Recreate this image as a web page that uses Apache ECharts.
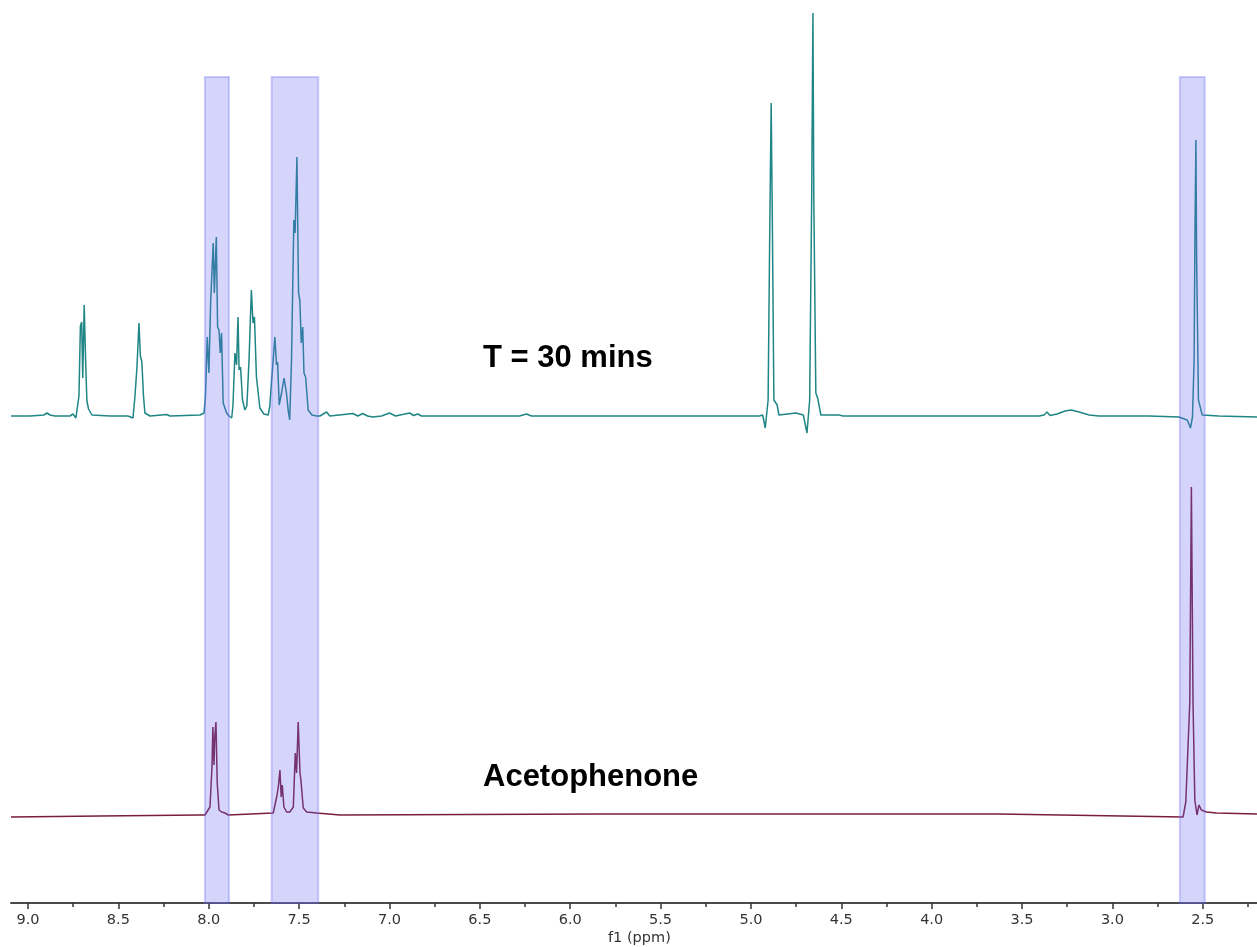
<!DOCTYPE html>
<html>
<head>
<meta charset="utf-8">
<script src="https://cdn.jsdelivr.net/npm/echarts@6/dist/echarts.min.js"></script>
<style>
html,body{margin:0;padding:0;background:#fff;}
#chart{width:1257px;height:947px;}
</style>
</head>
<body>
<div id="chart"></div>
<script>
// ---- Data (ppm, intensity above baseline) ----
const tealPpm = [9.094,8.989,8.912,8.895,8.878,8.851,8.768,8.751,8.735,8.726,8.718,8.710,8.703,8.697,8.689,8.682,8.674,8.665,8.646,8.546,8.447,8.419,8.408,8.397,8.386,8.378,8.370,8.361,8.353,8.325,8.231,8.215,8.049,8.026,8.018,8.008,7.999,7.989,7.975,7.969,7.958,7.951,7.943,7.936,7.929,7.920,7.901,7.888,7.873,7.866,7.855,7.846,7.838,7.832,7.824,7.813,7.800,7.789,7.777,7.764,7.755,7.747,7.736,7.717,7.695,7.671,7.662,7.653,7.634,7.625,7.619,7.610,7.597,7.583,7.570,7.560,7.552,7.542,7.529,7.522,7.512,7.503,7.496,7.488,7.480,7.473,7.464,7.450,7.429,7.403,7.385,7.348,7.330,7.202,7.175,7.148,7.121,7.092,7.044,7.000,6.966,6.889,6.866,6.844,6.822,6.502,6.281,6.242,6.214,5.838,5.285,4.953,4.935,4.921,4.905,4.896,4.888,4.881,4.873,4.864,4.855,4.845,4.751,4.710,4.690,4.675,4.664,4.657,4.652,4.641,4.631,4.622,4.613,4.512,4.502,4.490,4.180,3.627,3.406,3.378,3.362,3.345,3.306,3.262,3.228,3.184,3.129,3.074,2.798,2.632,2.586,2.568,2.557,2.548,2.543,2.538,2.534,2.524,2.517,2.512,2.503,2.412,2.200];
const tealInt = [0,0,1,3,1,0,0,2,-2,-4,20,90,94,38,111,60,15,7,1,0,0,-2,20,49,93,60,54,20,3,0,1.5,0,1,3,20,79,43,116,173,123,179,89,86,63,83,13,3,0,-2,10,63,51,99,46,49,16,6,10,56,126,93,99,39,8,2,1,10,33,79,51,54,11,23,38,23,5,-4,56,196,183,259,123,116,73,89,43,39,6,1,0,0,4,0,2.5,0,2.5,0,-1,0,3,0,3,0.5,2,0,0,0,2,0,0,0,0,1,-12,16,183,313,183,16,18,11,1,3,1,-17,16,216,403,216,23,18,19,1,1,3,0,0,0,0,1,4,0.5,2,5,6,4,1,0,0,-1,-4,-12,-1,56,189,276,156,16,11,13,1,0,-1];

const acetoPpm = [9.094,8.602,8.049,8.021,8.012,7.993,7.982,7.977,7.971,7.966,7.960,7.953,7.943,7.928,7.910,7.892,7.643,7.624,7.615,7.606,7.599,7.593,7.584,7.569,7.551,7.532,7.521,7.514,7.505,7.495,7.490,7.477,7.458,7.403,7.274,5.838,3.627,2.609,2.594,2.583,2.572,2.563,2.554,2.544,2.532,2.521,2.508,2.480,2.424,2.200];
const acetoInt = [-2,-1,0,0,2,8,48,88,50,80,93,32,5,3,2,0,2,18,28,45,18,30,8,3,3,8,62,42,93,42,35,7,3,2,0,1,1,-2,13,15,112,328,112,15,0,10,5,3,2,1];

const bandStart = [8.021, 7.652, 2.627];
const bandEnd   = [7.888, 7.394, 2.489];

const majorTicks = [9.0,8.5,8.0,7.5,7.0,6.5,6.0,5.5,5.0,4.5,4.0,3.5,3.0,2.5];
const minorTicks = [9.25,8.75,8.25,7.75,7.25,6.75,6.25,5.75,5.25,4.75,4.25,3.75,3.25,2.75,2.25];

const traceLabels = ['T = 30 mins', 'Acetophenone'];

// ---- layout constants ----
const TEAL_OFFSET = 487;
const ACETO_OFFSET = 88;
const BAND_TOP = 826;

const tealData = tealPpm.map((p, i) => [p, tealInt[i] + TEAL_OFFSET]);
const acetoData = acetoPpm.map((p, i) => [p, acetoInt[i] + ACETO_OFFSET]);
const bandData = bandStart.map((s, i) => [s, bandEnd[i]]);

const chart = echarts.init(document.getElementById('chart'));
const axisBase = {
  type: 'value', min: 2.2, max: 9.094, inverse: true, position: 'bottom',
  splitLine: {show: false}
};
chart.setOption({
  animation: false,
  backgroundColor: '#ffffff',
  grid: {left: 11, right: 0, top: 0, bottom: 44, containLabel: false},
  xAxis: [
    Object.assign({}, axisBase, {
      axisLine: {show: true, lineStyle: {color: '#4a4a4a', width: 2}},
      axisTick: {show: true, customValues: majorTicks, length: 6, lineStyle: {color: '#333', width: 1.5}},
      axisLabel: {show: true, customValues: majorTicks, margin: 10, color: '#333',
        fontFamily: 'DejaVu Sans', fontSize: 14.5, formatter: v => Number(v).toFixed(1)}
    }),
    Object.assign({}, axisBase, {
      axisLine: {show: false},
      axisTick: {show: true, customValues: minorTicks, length: 4, lineStyle: {color: '#333', width: 1.5}},
      axisLabel: {show: false}
    })
  ],
  yAxis: {type: 'value', min: 0, max: 903, show: false},
  series: [
    {type: 'line', data: tealData, showSymbol: false, symbol: 'none', z: 2,
      lineStyle: {color: '#1f8585', width: 1.5}},
    {type: 'line', data: acetoData, showSymbol: false, symbol: 'none', z: 2,
      lineStyle: {color: '#7a1e3c', width: 1.5}},
    {type: 'custom', data: bandData, z: 5, silent: true,
      renderItem: function (params, api) {
        const p1 = api.coord([api.value(0), BAND_TOP]);
        const p2 = api.coord([api.value(1), 0]);
        return {
          type: 'rect',
          shape: {x: Math.min(p1[0], p2[0]), y: p1[1], width: Math.abs(p2[0] - p1[0]), height: p2[1] - p1[1]},
          style: {fill: 'rgba(105,105,245,0.28)', stroke: 'rgba(105,105,245,0.32)', lineWidth: 2}
        };
      }
    }
  ],
  graphic: [
    {type: 'text', left: 483, top: 343, style: {text: traceLabels[0], fontSize: 31, fontWeight: 'bold', fontFamily: 'Liberation Sans', fill: '#000'}},
    {type: 'text', left: 483, top: 762, style: {text: traceLabels[1], fontSize: 31, fontWeight: 'bold', fontFamily: 'Liberation Sans', fill: '#000'}},
    {type: 'text', left: 608, top: 931, style: {text: 'f1 (ppm)', fontSize: 14.5, fontFamily: 'DejaVu Sans', fill: '#333'}}
  ]
});
</script>
</body>
</html>
